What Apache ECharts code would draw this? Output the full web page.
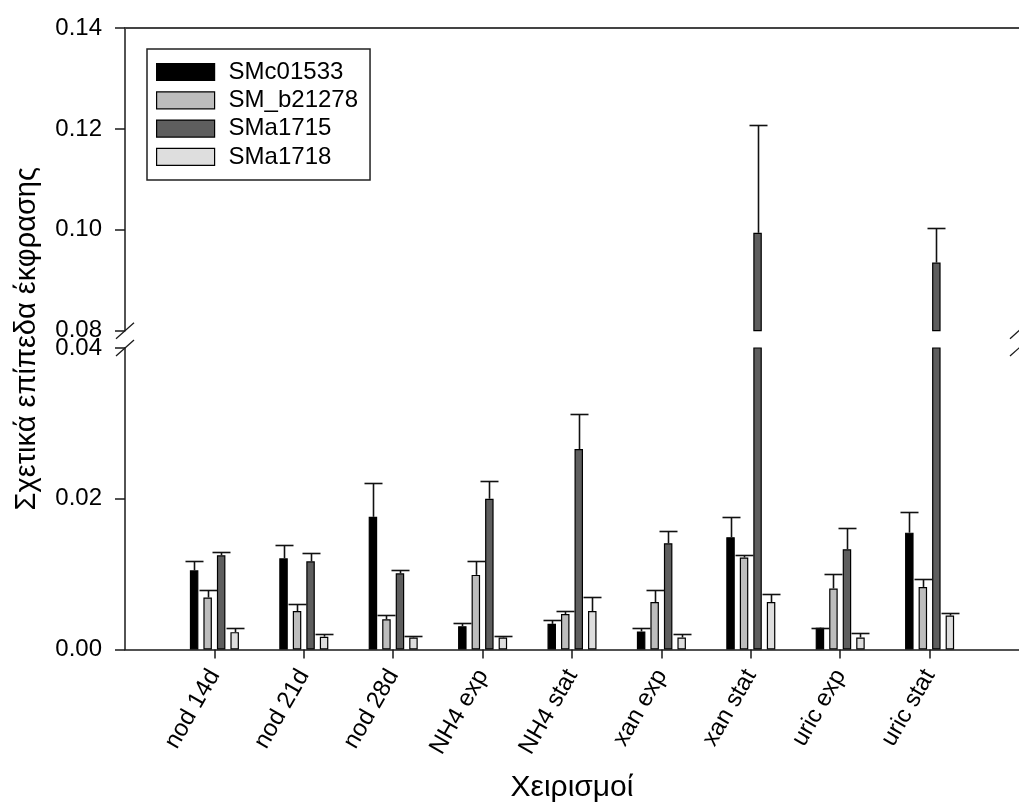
<!DOCTYPE html>
<html>
<head>
<meta charset="utf-8">
<script src="https://cdn.jsdelivr.net/npm/echarts@6/dist/echarts.min.js"></script>
<style>
  html, body { margin: 0; padding: 0; background: #ffffff; }
  #chart { width: 1019px; height: 806px; }
</style>
</head>
<body>
<div id="chart"></div>
<script>
// Treatments (x categories)
const categories = ['nod 14d', 'nod 21d', 'nod 28d', 'NH4 exp', 'NH4 stat', 'xan exp', 'xan stat', 'uric exp', 'uric stat'];

// Gene names (legend)
const seriesNames = ['SMc01533', 'SM_b21278', 'SMa1715', 'SMa1718'];

// Relative expression levels and their (upper) error bars
const smc01533    = [0.0105, 0.0121, 0.0176, 0.0031, 0.0034, 0.0024, 0.0149, 0.0029, 0.0155];
const smc01533Err = [0.0013, 0.0018, 0.0045, 0.0004, 0.0005, 0.0004, 0.0027, 0.0000, 0.0028];

const smB21278    = [0.0069, 0.0051, 0.0040, 0.0099, 0.0047, 0.0063, 0.0122, 0.0081, 0.0083];
const smB21278Err = [0.0010, 0.0010, 0.0006, 0.0018, 0.0004, 0.0016, 0.0003, 0.0019, 0.0010];

const sma1715     = [0.0125, 0.0117, 0.0101, 0.0200, 0.0266, 0.0141, 0.0994, 0.0133, 0.0935];
const sma1715Err  = [0.0005, 0.0011, 0.0004, 0.0024, 0.0046, 0.0016, 0.0214, 0.0028, 0.0068];

const sma1718     = [0.0023, 0.0017, 0.0016, 0.0016, 0.0051, 0.0016, 0.0063, 0.0016, 0.0045];
const sma1718Err  = [0.0006, 0.0004, 0.0002, 0.0002, 0.0018, 0.0004, 0.0011, 0.0006, 0.0004];

// Broken y axis: lower segment 0 - 0.04, upper segment 0.08 - 0.14
const lowerRange = [0, 0.04];
const upperRange = [0.08, 0.14];
const yInterval = 0.02;

const values = [smc01533, smB21278, sma1715, sma1718];
const errors = [smc01533Err, smB21278Err, sma1715Err, sma1718Err];
const colors = ['#000000', '#bdbdbd', '#5e5e5e', '#dedede'];

const FONT = '"Liberation Sans", Arial, sans-serif';
const BAR_W = 8.5;
const BAR_GAP = 0.59;

// grid 0 = upper segment, grid 1 = lower segment
function barSeries(k, grid) {
  return {
    type: 'bar',
    name: seriesNames[k],
    xAxisIndex: grid,
    yAxisIndex: grid,
    barWidth: BAR_W,
    barGap: (BAR_GAP * 100) + '%',
    clip: true,
    itemStyle: { color: colors[k], borderColor: '#000', borderWidth: 1.2 },
    data: values[k].map((v, i) => [i + 1, v]),
    z: 2
  };
}

function errorRows(grid) {
  const rows = [];
  values.forEach((arr, k) => {
    arr.forEach((v, i) => {
      const top = v + errors[k][i];
      if (grid === 1 && top <= lowerRange[1]) rows.push([i + 1, v, errors[k][i], k]);
      if (grid === 0 && v >= upperRange[0]) rows.push([i + 1, v, errors[k][i], k]);
    });
  });
  return rows;
}

function errorSeries(grid) {
  return {
    type: 'custom',
    xAxisIndex: grid,
    yAxisIndex: grid,
    dimensions: ['x', 'v', 'e', 'k'],
    encode: { x: 0, y: 1 },
    data: errorRows(grid),
    z: 3,
    silent: true,
    renderItem: function (params, api) {
      const x = api.value(0), v = api.value(1), e = api.value(2), k = api.value(3);
      const off = (k - 1.5) * BAR_W * (1 + BAR_GAP);
      const p0 = api.coord([x, v]);
      const p1 = api.coord([x, v + e]);
      const cx = Math.round(p0[0] + off) + 0.5;
      const ty = Math.round(p1[1]) + 0.5;
      return {
        type: 'group',
        children: [
          { type: 'line', shape: { x1: cx, y1: p0[1], x2: cx, y2: ty }, style: { stroke: '#111', lineWidth: 1.6 } },
          { type: 'line', shape: { x1: cx - 9, y1: ty, x2: cx + 9, y2: ty }, style: { stroke: '#111', lineWidth: 1.6 } }
        ]
      };
    }
  };
}

const tickPositions = categories.map((c, i) => i + 1);
const axisLabelFmt = v => v.toFixed(2);

const yAxisCommon = {
  type: 'value',
  interval: yInterval,
  axisLine: { show: true, onZero: false, lineStyle: { color: '#1a1a1a', width: 1.5 } },
  axisTick: { show: true, inside: false, length: 10, lineStyle: { color: '#1a1a1a', width: 1.5 } },
  axisLabel: { formatter: axisLabelFmt, fontSize: 24, fontFamily: FONT, color: '#000', margin: 23, showMinLabel: true, showMaxLabel: true },
  splitLine: { show: false }
};

const option = {
  animation: false,
  backgroundColor: '#ffffff',
  grid: [
    { left: 125, right: -6, top: 28, bottom: 475.3, containLabel: false },
    { left: 125, right: -6, top: 348, bottom: 156.5, containLabel: false }
  ],
  xAxis: [
    {
      type: 'value', gridIndex: 0, min: 0, max: 10, interval: 1, position: 'top',
      axisLine: { show: true, onZero: false, lineStyle: { color: '#444', width: 2 } },
      axisTick: { show: false }, axisLabel: { show: false }, splitLine: { show: false }
    },
    {
      type: 'value', gridIndex: 1, min: 0, max: 10, interval: 1, position: 'bottom',
      name: 'Χειρισμοί', nameLocation: 'middle', nameGap: 123,
      nameTextStyle: { fontSize: 30, fontFamily: FONT, color: '#000' },
      axisLine: { show: true, onZero: false, lineStyle: { color: '#1a1a1a', width: 1.5 } },
      axisTick: { show: true, inside: false, length: 9, customValues: tickPositions, lineStyle: { color: '#1a1a1a', width: 1.5 } },
      axisLabel: {
        customValues: tickPositions,
        formatter: v => categories[Math.round(v) - 1] || '',
        rotate: 60, margin: 22,
        fontSize: 24, fontFamily: FONT, color: '#000'
      },
      splitLine: { show: false }
    }
  ],
  yAxis: [
    Object.assign({}, yAxisCommon, { gridIndex: 0, min: upperRange[0], max: upperRange[1] }),
    Object.assign({}, yAxisCommon, { gridIndex: 1, min: lowerRange[0], max: lowerRange[1] })
  ],
  legend: {
    data: seriesNames,
    orient: 'vertical',
    left: 147,
    top: 49,
    padding: [11, 12, 11, 9],
    itemWidth: 58,
    itemHeight: 17,
    itemGap: 4.3,
    icon: 'rect',
    borderColor: '#222',
    borderWidth: 1.5,
    backgroundColor: '#fff',
    itemStyle: { borderColor: '#000', borderWidth: 1.2 },
    textStyle: { fontSize: 24, fontFamily: FONT, color: '#000', lineHeight: 24, padding: [0, 0, 0, 9] }
  },
  series: [
    barSeries(0, 0), barSeries(1, 0), barSeries(2, 0), barSeries(3, 0),
    barSeries(0, 1), barSeries(1, 1), barSeries(2, 1), barSeries(3, 1),
    errorSeries(0), errorSeries(1)
  ]
};

const chart = echarts.init(document.getElementById('chart'), null, { renderer: 'canvas' });
chart.setOption(option);

// Axis-break marks and the shared y-axis title, placed from the axes' own scales
const xLeft = chart.convertToPixel({ xAxisIndex: 1 }, 0);
const xRight = chart.convertToPixel({ xAxisIndex: 1 }, 10);
const yUpperBottom = chart.convertToPixel({ yAxisIndex: 0 }, upperRange[0]);
const yLowerTop = chart.convertToPixel({ yAxisIndex: 1 }, lowerRange[1]);
const yTop = chart.convertToPixel({ yAxisIndex: 0 }, upperRange[1]);
const yBottom = chart.convertToPixel({ yAxisIndex: 1 }, lowerRange[0]);

function slash(x, y) {
  return {
    type: 'line',
    shape: { x1: x - 9, y1: y + 8, x2: x + 9, y2: y - 8 },
    style: { stroke: '#1a1a1a', lineWidth: 1.3 },
    z: 10
  };
}

chart.setOption({
  graphic: [
    slash(xLeft, yUpperBottom), slash(xLeft, yLowerTop),
    slash(xRight, yUpperBottom), slash(xRight, yLowerTop),
    {
      type: 'text',
      x: 27,
      y: (yTop + yBottom) / 2,
      rotation: Math.PI / 2,
      style: {
        text: 'Σχετικά επίπεδα έκφρασης',
        font: '29px ' + FONT,
        fill: '#000',
        align: 'center', verticalAlign: 'middle',
        textAlign: 'center', textVerticalAlign: 'middle'
      }
    }
  ]
});
</script>
</body>
</html>
